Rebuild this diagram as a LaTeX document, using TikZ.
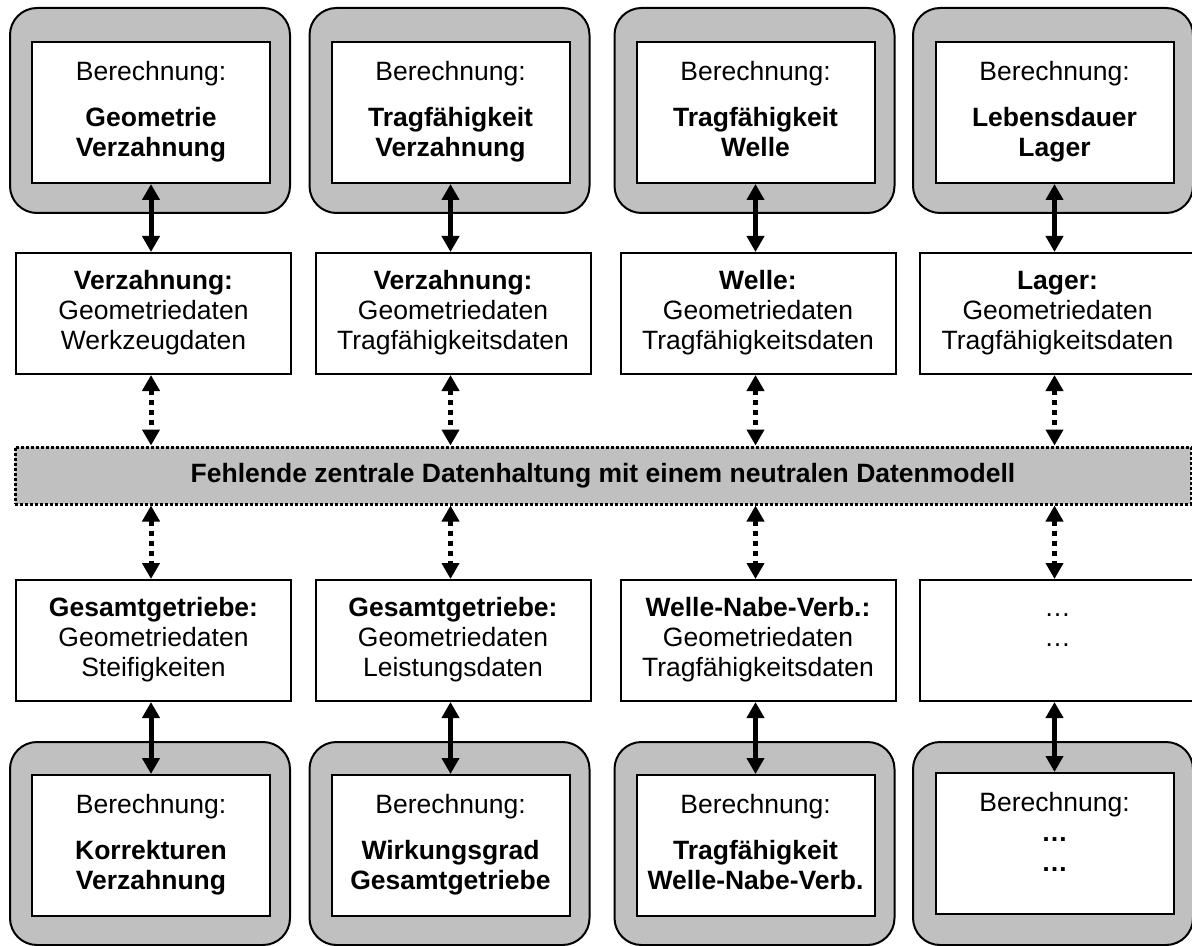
\documentclass[tikz,border=0pt]{standalone}
\usepackage{fontspec}
\setmainfont{Liberation Sans}
\usetikzlibrary{arrows.meta}
\definecolor{silver}{HTML}{C0C0C0}
\newcommand{\mainsize}{\fontsize{13.25pt}{15pt}\selectfont}
\tikzset{
  calcframe/.style={draw, line width=1pt, fill=silver, rounded corners=13.5pt,
    minimum width=140pt, minimum height=102.5pt, inner sep=0pt},
  calcbox/.style={draw, line width=1pt, fill=white, minimum width=119pt,
    minimum height=70.5pt, inner sep=0pt, align=center, font=\mainsize},
  databox/.style={draw, line width=1pt, fill=white, minimum width=137.5pt,
    minimum height=60.5pt, inner sep=0pt, align=center, font=\mainsize},
  storeband/.style={draw, line width=1.5pt, dash pattern=on 1.5pt off 1pt,
    fill=silver, minimum width=588pt, minimum height=28.5pt, inner sep=0pt,
    font=\mainsize\bfseries},
  link/.style={line width=2.5pt,
    {Triangle[width=8.5pt,length=8pt]}-{Triangle[width=8.5pt,length=8pt]}},
  dotlink/.style={link, dash pattern=on 2.5pt off 2.5pt},
}
\begin{document}
\begin{tikzpicture}[x=0.5pt, y=-0.5pt]
\useasboundingbox (0,0) rectangle (1192,946);

% upper row: calculation modules
\node[calcframe] (g1) at (150,110.5) {};
\node[calcframe] (g2) at (449.5,110.5) {};
\node[calcframe] (g3) at (754.5,110.5) {};
\node[calcframe] (g4) at (1053,110.5) {};
\node[calcbox] (t1) at (151,112.5)
  {\strut Berechnung:\\[8pt]\textbf{\strut Geometrie}\\\textbf{\strut Verzahnung}};
\node[calcbox] (t2) at (450.5,112.5)
  {\strut Berechnung:\\[8pt]\textbf{\strut Tragfähigkeit}\\\textbf{\strut Verzahnung}};
\node[calcbox] (t3) at (755.5,112.5)
  {\strut Berechnung:\\[8pt]\textbf{\strut Tragfähigkeit}\\\textbf{\strut Welle}};
\node[calcbox] (t4) at (1054.5,112.5)
  {\strut Berechnung:\\[8pt]\textbf{\strut Lebensdauer}\\\textbf{\strut Lager}};

% upper row: data of each module
\node[databox] (m1) at (153.5,313.5)
  {\textbf{\strut Verzahnung:}\\\strut Geometriedaten\\\strut Werkzeugdaten};
\node[databox] (m2) at (453,313.5)
  {\textbf{\strut Verzahnung:}\\\strut Geometriedaten\\\strut Tragfähigkeitsdaten};
\node[databox] (m3) at (758,313.5)
  {\textbf{\strut Welle:}\\\strut Geometriedaten\\\strut Tragfähigkeitsdaten};
\node[databox] (m4) at (1057.5,313.5)
  {\textbf{\strut Lager:}\\\strut Geometriedaten\\\strut Tragfähigkeitsdaten};

% central data storage
\node[storeband] (band) at (603,475.5)
  {Fehlende zentrale Datenhaltung mit einem neutralen Datenmodell};

% lower row: data of each module
\node[databox] (n1) at (153.5,640.5)
  {\textbf{\strut Gesamtgetriebe:}\\\strut Geometriedaten\\\strut Steifigkeiten};
\node[databox] (n2) at (453,640.5)
  {\textbf{\strut Gesamtgetriebe:}\\\strut Geometriedaten\\\strut Leistungsdaten};
\node[databox] (n3) at (758,640.5)
  {\textbf{\strut Welle-Nabe-Verb.:}\\\strut Geometriedaten\\\strut Tragfähigkeitsdaten};
\node[databox] (n4) at (1057.5,640.5)
  {\strut …\\\strut …\\\strut};

% lower row: calculation modules
\node[calcframe, minimum height=101.5pt] (h1) at (150,843.5) {};
\node[calcframe, minimum height=101.5pt] (h2) at (449.5,843.5) {};
\node[calcframe, minimum height=101.5pt] (h3) at (754.5,843.5) {};
\node[calcframe, minimum height=101.5pt] (h4) at (1053,843.5) {};
\node[calcbox] (b1) at (151,845.5)
  {\strut Berechnung:\\[8pt]\textbf{\strut Korrekturen}\\\textbf{\strut Verzahnung}};
\node[calcbox] (b2) at (450.5,845.5)
  {\strut Berechnung:\\[8pt]\textbf{\strut Wirkungsgrad}\\\textbf{\strut Gesamtgetriebe}};
\node[calcbox] (b3) at (755.5,845.5)
  {\strut Berechnung:\\[8pt]\textbf{\strut Tragfähigkeit}\\\textbf{\strut Welle-Nabe-Verb.}};
\node[calcbox] (b4) at (1054.5,843.5)
  {\strut Berechnung:\\\textbf{\strut …}\\\textbf{\strut …}\\[-7pt]\strut};

% connectors
\foreach \i in {1,2,3,4} {
  \draw[link] (t\i.south) -- (t\i.south |- m\i.north);
  \draw[dotlink] (t\i.south |- m\i.south) -- (t\i.south |- band.north);
  \draw[dotlink] (b\i.north |- band.south) -- (b\i.north |- n\i.north);
  \draw[link] (b\i.north |- n\i.south) -- (b\i.north);
}
\end{tikzpicture}
\end{document}
